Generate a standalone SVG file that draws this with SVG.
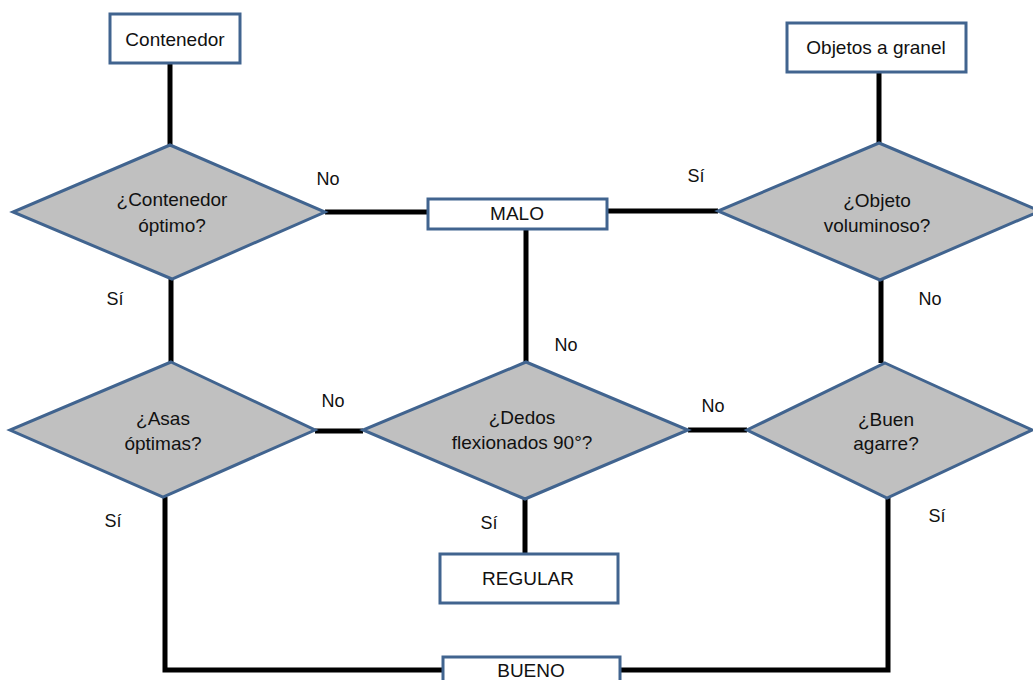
<svg xmlns="http://www.w3.org/2000/svg" width="1033" height="680" viewBox="0 0 1033 680">
<style>
.box{fill:#ffffff;stroke:#41648F;stroke-width:3}
.dia{fill:#C0C0C0;stroke:#41648F;stroke-width:3;stroke-linejoin:miter}
.c{fill:none;stroke:#000000;stroke-width:5}
text{font-family:"Liberation Sans",Arial,sans-serif;font-size:18px;fill:#111111;text-anchor:middle}
.t{font-size:19px}
</style>
<rect width="1033" height="680" fill="#ffffff"/>
<g id="connectors">
<line class="c" x1="170" y1="63" x2="170" y2="145"/>
<line class="c" x1="171" y1="279" x2="171" y2="362"/>
<line class="c" x1="325" y1="212" x2="428" y2="212"/>
<line class="c" x1="607" y1="211" x2="718" y2="211"/>
<line class="c" x1="526" y1="229" x2="526" y2="362"/>
<line class="c" x1="879" y1="72" x2="879" y2="143"/>
<line class="c" x1="881" y1="280" x2="881" y2="363"/>
<line class="c" x1="315" y1="431" x2="363" y2="431"/>
<line class="c" x1="688" y1="430" x2="747" y2="430"/>
<line class="c" x1="525" y1="499" x2="525" y2="554"/>
<polyline class="c" points="165,497 165,670 443,670"/>
<polyline class="c" points="620,670 888,670 888,498"/>
</g>
<g id="n-contenedor">
<rect class="box" x="110" y="14" width="130" height="49"/>
<text class="t" x="175" y="46">Contenedor</text>
</g>
<g id="n-objetos">
<rect class="box" x="787" y="23" width="179" height="49"/>
<text class="t" x="876" y="54">Objetos a granel</text>
</g>
<g id="n-contenedor-optimo">
<polygon class="dia" points="170,145 325,212 172,279 13,212"/>
<text class="t" x="172" y="206">¿Contenedor</text>
<text class="t" x="172" y="232">óptimo?</text>
</g>
<g id="n-malo">
<rect class="box" x="428" y="199" width="179" height="30"/>
<text class="t" x="517" y="220">MALO</text>
</g>
<g id="n-voluminoso">
<polygon class="dia" points="879,143 1040,211 880,280 718,211"/>
<text class="t" x="877" y="207">¿Objeto</text>
<text class="t" x="877" y="232">voluminoso?</text>
</g>
<g id="n-asas">
<polygon class="dia" points="171,362 315,430 163,497 10,430"/>
<text class="t" x="163" y="425">¿Asas</text>
<text class="t" x="163" y="450">óptimas?</text>
</g>
<g id="n-dedos">
<polygon class="dia" points="526,362 688,430 525,499 363,430"/>
<text class="t" x="522" y="424">¿Dedos</text>
<text class="t" x="522" y="449">flexionados 90°?</text>
</g>
<g id="n-buen">
<polygon class="dia" points="885,363 1032,430 887,498 747,430"/>
<text class="t" x="886" y="426">¿Buen</text>
<text class="t" x="886" y="450">agarre?</text>
</g>
<g id="n-regular">
<rect class="box" x="440" y="554" width="178" height="49"/>
<text class="t" x="528" y="585">REGULAR</text>
</g>
<g id="n-bueno">
<rect class="box" x="443" y="657" width="177" height="40"/>
<text class="t" x="531" y="677">BUENO</text>
</g>
<g id="labels">
<text x="328" y="185">No</text>
<text x="115" y="305">Sí</text>
<text x="566" y="351">No</text>
<text x="333" y="407">No</text>
<text x="713" y="412">No</text>
<text x="489" y="529">Sí</text>
<text x="113" y="527">Sí</text>
<text x="696" y="182">Sí</text>
<text x="930" y="305">No</text>
<text x="937" y="522">Sí</text>
</g>
</svg>
